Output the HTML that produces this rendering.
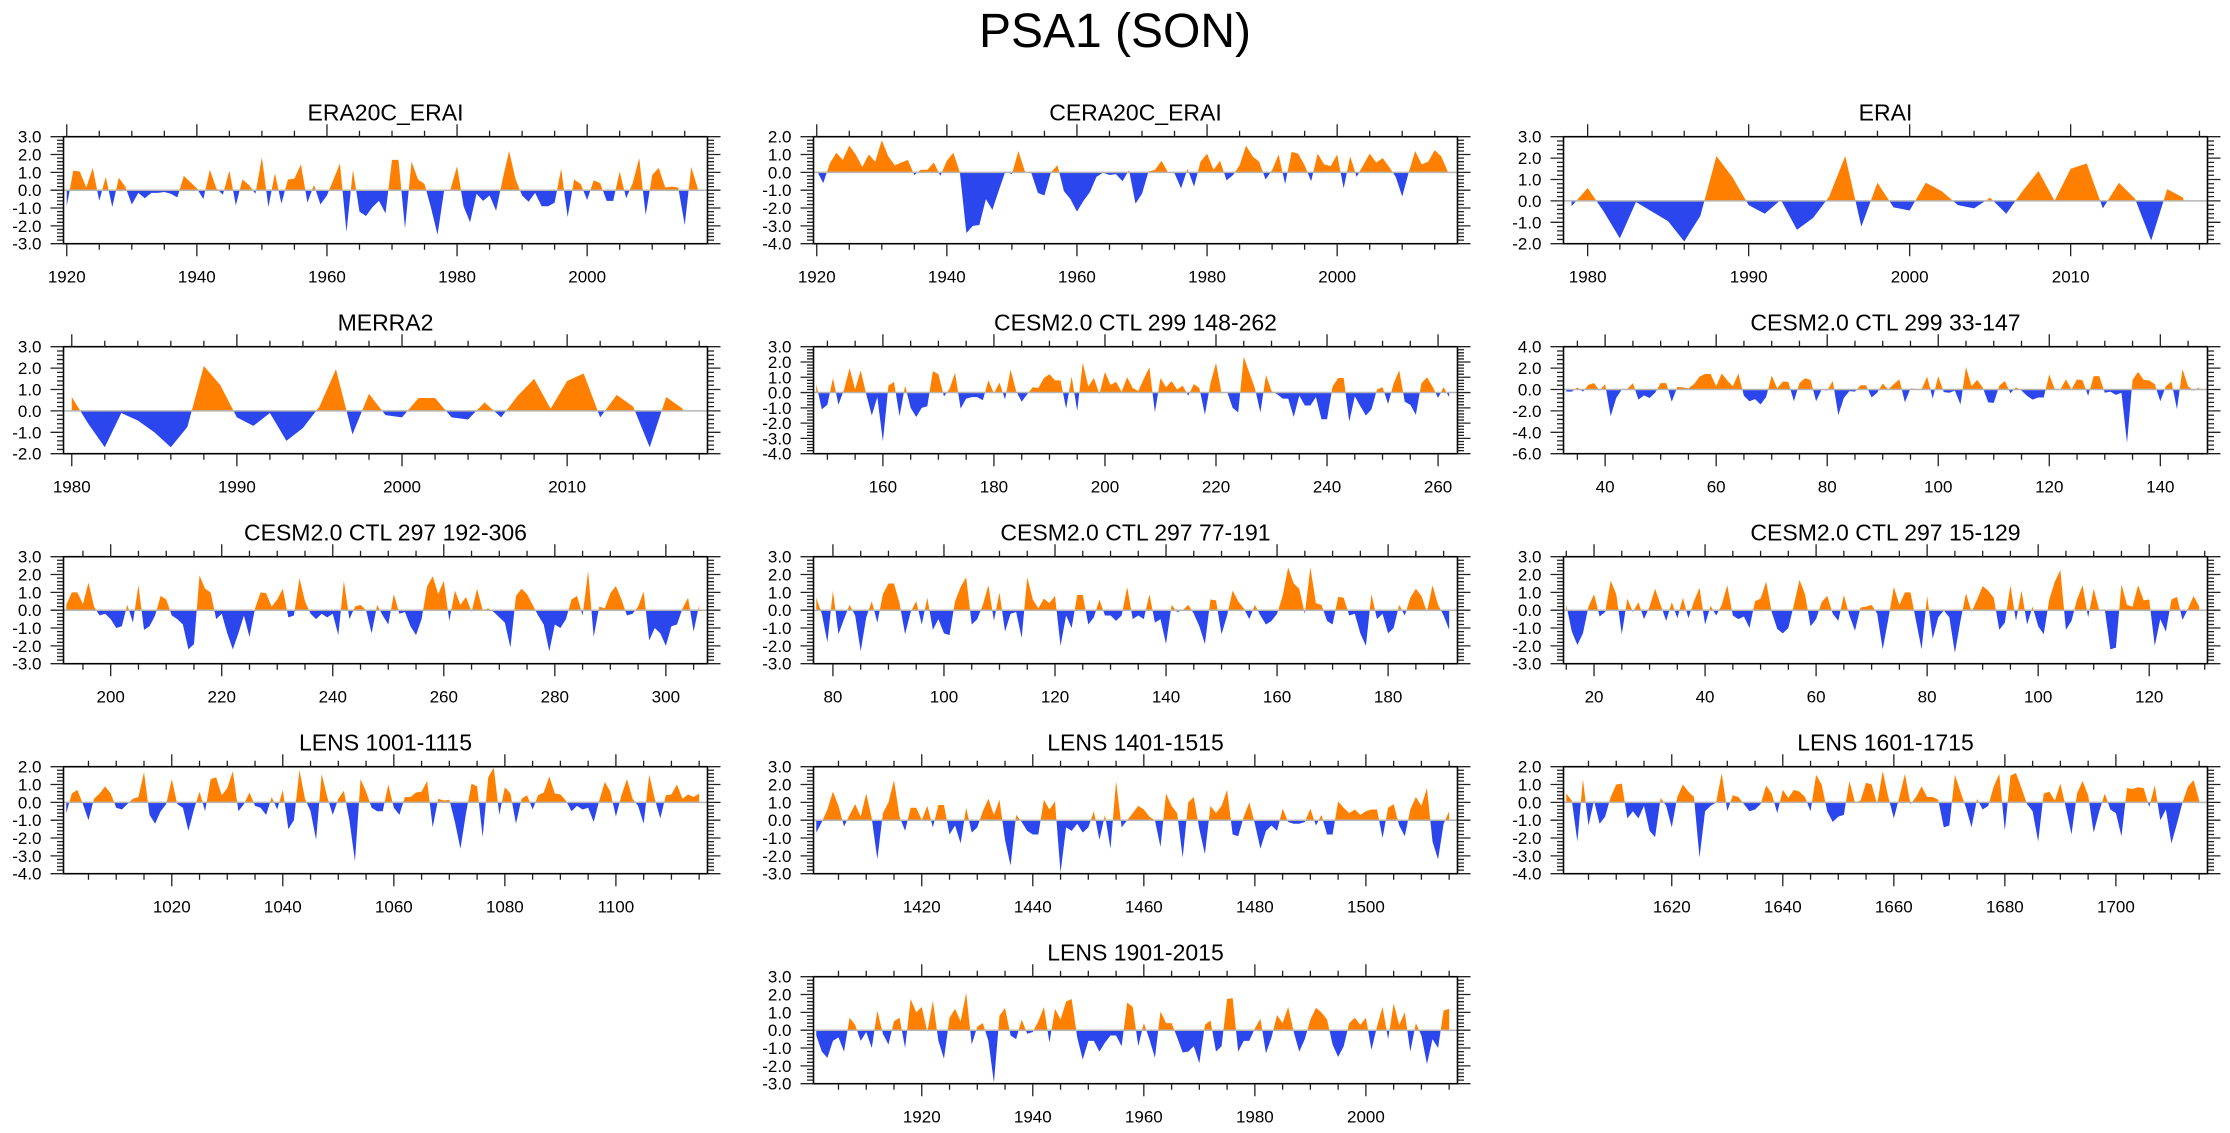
<!DOCTYPE html>
<html><head><meta charset="utf-8"><title>PSA1 (SON)</title>
<style>
html,body{margin:0;padding:0;background:#fff;}
svg{display:block;font-family:"Liberation Sans",Arial,sans-serif;}
</style></head>
<body>
<svg id="fig" width="2230" height="1133" viewBox="0 0 2230 1133" xmlns="http://www.w3.org/2000/svg">
<rect width="2230" height="1133" fill="#fff"/>
<text x="1115" y="47" font-size="48" text-anchor="middle" fill="#000">PSA1 (SON)</text>
</svg>
<script>
// ---- data (one array per panel) ----
const titles = ["ERA20C_ERAI","CERA20C_ERAI","ERAI","MERRA2","CESM2.0 CTL 299 148-262","CESM2.0 CTL 299 33-147","CESM2.0 CTL 297 192-306","CESM2.0 CTL 297 77-191","CESM2.0 CTL 297 15-129","LENS 1001-1115","LENS 1401-1515","LENS 1601-1715","LENS 1901-2015"];
const startYears = [1920,1920,1979,1980,148,33,192,77,15,1001,1401,1601,1901];
const endYears = [2017,2017,2017,2017,262,147,306,191,129,1115,1515,1715,2015];
const yMins = [-3,-4,-2,-2,-4,-6,-3,-3,-3,-4,-3,-4,-3];
const yMaxs = [3,2,3,3,3,4,3,3,3,2,3,2,3];
const yLabelSteps = [1,1,1,1,1,2,1,1,1,1,1,1,1];
const xMajorSteps = [20,20,10,10,20,20,20,20,20,20,20,20,20];
const xMinorSteps = [5,5,2,2,5,5,5,5,5,5,5,5,5];

const era20c = [-0.9,1.1,1.05,0.15,1.25,-0.6,0.75,-0.95,0.7,0.2,-0.8,-0.15,-0.45,-0.15,-0.15,-0.1,-0.2,-0.4,0.8,0.45,0.1,-0.5,1.15,0.1,-0.25,1.1,-0.85,0.6,0.3,-0.2,1.85,-0.95,0.95,-0.75,0.6,0.65,1.45,-0.7,0.3,-0.8,-0.3,0.6,1.5,-2.35,1.15,-1.2,-1.45,-0.95,-0.6,-1.3,1.7,1.7,-2.15,1.6,0.6,0.35,-1.0,-2.5,-0.05,0.05,1.35,-0.9,-1.8,-0.2,-0.6,-0.3,-1.15,0.6,2.2,0.6,-0.3,-0.65,-0.15,-0.9,-0.9,-0.7,1.2,-1.5,0.6,0.35,-0.55,0.55,0.4,-0.6,-0.6,1.05,-0.45,0.4,1.8,-1.4,0.85,1.25,0.15,0.2,0.15,-1.95,1.3,0.1];
const cera20c = [0.1,-0.6,0.5,1.1,0.7,1.5,1.0,0.3,1.0,0.6,1.8,0.9,0.4,0.55,0.7,-0.15,0.15,0.15,0.55,-0.2,0.65,1.1,0.0,-3.4,-3.0,-2.95,-1.5,-2.1,-1.0,0.05,-0.1,1.2,0.05,-0.05,-1.15,-1.3,0.0,0.4,-1.05,-1.5,-2.2,-1.6,-1.1,-0.25,-0.02,-0.15,-0.1,-0.5,0.13,-1.75,-1.2,0.05,0.15,0.65,0.0,-0.05,-0.9,0.2,-0.8,0.6,1.05,0.15,0.65,-0.45,-0.15,0.4,1.5,0.9,0.6,-0.4,0.13,1.0,-0.65,1.15,1.05,0.4,-0.5,1.05,0.45,0.35,1.0,-0.9,0.9,-0.25,0.4,1.05,0.55,0.8,0.3,-0.25,-1.35,0.0,1.2,0.45,0.6,1.25,0.9,0.05];
const erai = [-0.25,0.6,-0.5,-1.75,-0.05,-0.5,-0.95,-1.9,-0.7,2.1,1.1,-0.2,-0.6,0.05,-1.35,-0.8,0.2,2.1,-1.2,0.85,-0.3,-0.45,0.85,0.45,-0.2,-0.35,0.15,-0.6,0.45,1.4,0.0,1.5,1.75,-0.35,0.85,0.1,-1.85,0.55,0.15];
const merra2 = [0.65,-0.6,-1.7,-0.1,-0.45,-1.0,-1.7,-0.75,2.1,1.2,-0.3,-0.7,-0.1,-1.4,-0.8,0.2,1.95,-1.1,0.8,-0.2,-0.3,0.6,0.6,-0.3,-0.4,0.4,-0.3,0.7,1.5,0.1,1.4,1.75,-0.3,0.75,0.2,-1.7,0.65,0.1];
const ctl299a = [0.55,-1.1,-0.8,0.95,-0.8,0.2,1.6,0.2,1.45,-0.1,-1.5,-0.3,-3.2,0.45,0.7,-1.55,0.45,-1.0,-1.6,-1.0,-0.9,1.4,1.2,-0.25,0.25,1.3,-1.05,-0.4,-0.3,-0.3,-0.5,0.8,-0.05,0.65,-0.45,1.5,0.1,-0.6,-0.1,0.35,0.3,0.95,1.2,0.8,0.8,-1.05,1.05,-1.2,1.95,0.4,0.95,-0.1,1.35,0.5,0.7,0.05,1.0,0.3,0.1,0.9,1.65,-1.3,0.95,0.35,0.75,0.2,0.45,-0.2,0.55,0.3,-1.45,0.6,1.95,-0.05,0.05,-1.0,-1.3,2.35,1.3,0.3,-1.3,1.15,0.1,-0.1,-0.4,-0.4,-1.6,-0.2,-0.85,-0.85,-0.3,-1.75,-1.75,0.4,0.95,0.95,-1.9,-0.25,-0.9,-1.5,-1.1,0.2,0.35,-0.75,0.6,1.45,-0.6,-0.8,-1.45,0.6,1.0,0.4,-0.35,0.35,-0.3];
const ctl299b = [-0.2,-0.2,0.2,-0.2,0.45,0.6,-0.1,0.5,-2.5,-0.8,0.0,0.05,0.6,-0.95,-0.55,-0.8,-0.3,0.6,0.6,-1.15,0.25,0.2,0.1,0.5,1.2,1.45,1.45,0.3,1.5,0.85,0.3,1.5,-0.6,-1.1,-0.9,-1.4,-0.7,1.3,0.1,0.75,0.7,-1.1,0.6,1.05,0.9,-1.1,0.0,-0.1,0.8,-2.4,-0.8,-0.15,-0.2,0.4,0.4,-0.75,-0.3,0.55,0.0,0.5,0.95,-1.2,0.1,0.05,0.0,1.2,-0.85,1.25,-0.25,-0.3,-0.1,-1.4,2.1,0.3,0.9,0.2,-1.2,-1.25,0.35,0.8,-0.35,0.2,-0.1,-0.6,-0.95,-0.75,-0.75,1.4,0.0,0.0,0.95,0.0,0.95,0.85,-0.6,1.25,1.25,-0.3,-0.2,-0.5,-0.3,-5.0,0.9,1.65,0.9,0.85,0.5,-1.1,0.3,0.75,-1.85,1.9,0.3,-0.1,0.2];
const ctl297a = [0.3,1.0,1.0,0.35,1.55,0.2,-0.3,-0.2,-0.5,-1.0,-0.9,0.3,-0.7,1.4,-1.1,-0.9,-0.3,0.8,0.6,-0.3,-0.5,-0.8,-2.2,-1.9,1.95,1.2,1.0,-0.5,-0.2,-1.3,-2.2,-1.3,-0.3,-1.5,0.1,1.0,0.95,0.2,0.6,1.2,-0.4,-0.3,1.8,0.5,-0.2,-0.5,-0.2,-0.4,-0.2,-1.4,1.65,-0.5,0.2,0.3,0.0,-1.3,0.3,-0.3,-0.8,0.9,-0.2,-0.1,-0.9,-1.4,-0.5,1.35,1.9,0.9,1.65,-0.6,1.1,0.3,0.75,-0.1,1.2,0.0,0.1,-0.1,-0.4,-0.7,-2.1,0.8,1.2,0.9,0.3,-0.3,-0.8,-2.3,-0.8,-1.0,-0.5,0.6,0.8,-0.3,2.2,-1.5,0.2,0.1,0.95,1.35,0.6,-0.3,-0.2,0.2,1.05,-1.7,-1.0,-1.3,-2.0,-0.9,-0.8,0.1,0.7,-1.2,0.3];
const ctl297b = [0.7,-0.2,-1.8,1.1,-1.35,-0.5,0.3,-0.3,-2.3,-0.4,0.5,-0.7,0.9,1.5,1.5,0.4,-1.35,-0.1,0.5,-0.8,0.7,-1.1,-0.5,-1.3,-1.4,0.5,1.3,1.85,-0.8,-0.5,0.3,1.4,-0.6,1.0,-1.2,-0.2,-0.1,-1.55,1.85,0.6,0.1,0.65,0.4,0.8,-2.0,-0.3,-1.0,0.85,0.85,-0.8,-0.4,0.6,-0.3,-0.3,-0.6,-0.3,1.3,-0.5,-0.3,-0.5,0.9,-0.7,-0.5,-1.9,0.3,-0.1,0.0,0.3,-0.2,-0.9,-1.9,0.6,0.55,-1.35,-0.3,1.1,0.5,0.1,-0.5,0.3,-0.3,-0.8,-0.6,-0.2,0.8,2.4,1.5,1.2,-0.2,2.4,0.4,0.3,-0.6,-0.8,0.75,0.7,-0.3,-0.2,-1.3,-2.0,0.9,-0.5,-0.2,-1.3,-1.0,0.3,-0.3,0.7,1.2,0.8,-0.1,1.4,0.3,-0.3,-1.1];
const ctl297c = [0.3,-1.2,-1.95,-1.3,0.2,0.9,-0.35,-0.1,1.65,0.9,-1.35,0.65,-0.1,0.45,-0.5,0.2,1.2,0.3,-0.6,0.45,-0.45,0.7,-0.45,0.5,1.25,-0.8,0.25,-0.3,0.3,1.4,-0.3,-0.5,-0.35,-1.0,0.5,0.65,1.6,-0.1,-1.05,-1.3,-1.0,0.3,1.7,0.9,-0.9,-0.5,0.45,0.8,-0.2,-0.6,0.85,-0.3,-1.15,0.15,0.2,0.3,-0.2,-2.2,-0.5,1.3,0.3,1.0,1.0,-0.6,-2.2,0.8,-1.6,-0.4,0.0,-0.4,-2.4,-0.6,0.95,-0.1,0.6,1.35,1.1,0.7,-1.1,-0.7,1.4,-0.6,1.1,-0.8,0.2,-0.9,-1.35,0.6,1.6,2.25,-1.1,-0.6,0.6,1.4,-0.4,1.2,0.0,0.05,-2.2,-2.1,1.45,0.3,0.2,1.4,0.55,0.6,-2.0,-0.5,-1.2,0.6,0.75,-0.55,0.1,0.8,0.2];
const lens1001 = [-0.6,0.5,0.7,-0.1,-1.0,0.2,0.5,0.9,0.5,-0.3,-0.4,-0.1,0.2,0.3,1.7,-0.7,-1.2,-0.5,-0.1,1.3,-0.1,-0.3,-1.6,-0.4,0.6,-0.5,1.3,1.4,0.4,0.8,1.75,-0.5,-0.1,0.55,-0.2,-0.3,-0.7,0.3,-0.4,0.7,-1.5,-1.0,1.8,0.2,-0.5,-2.1,1.6,0.3,-0.7,0.2,0.65,-1.0,-3.3,1.3,0.6,-0.3,-0.5,-0.5,1.0,-0.3,-0.7,0.3,0.3,0.55,0.6,1.2,-1.4,0.2,0.1,0.15,-1.1,-2.6,-0.6,1.05,0.9,-1.95,1.4,1.95,-0.7,0.85,0.5,-1.2,0.2,0.4,-0.4,0.4,0.55,1.45,0.5,0.45,0.1,-0.5,-0.2,-0.4,-0.3,-1.1,0.1,1.15,0.6,-0.8,0.4,1.3,0.2,-0.2,-1.2,1.55,0.2,-0.9,0.4,0.45,1.0,0.2,0.45,0.3,0.5];
const lens1401 = [-0.7,-0.1,0.6,1.6,0.8,-0.35,0.3,0.9,0.2,1.5,0.1,-2.2,0.4,1.0,2.25,0.2,-0.6,0.7,0.7,0.0,0.8,-0.4,0.85,0.85,-0.8,-0.3,-1.3,0.7,-0.7,-0.4,0.5,1.2,0.3,1.15,-1.1,-2.55,0.3,-0.1,-0.6,-0.8,-0.8,1.15,0.6,1.05,-2.95,-0.4,-0.6,-0.2,-0.7,-0.4,0.5,-1.1,0.3,-1.6,2.2,-0.4,0.0,0.4,0.8,0.6,0.2,0.0,-1.5,1.5,0.8,0.4,-2.1,1.0,1.3,-0.5,-1.9,0.8,0.4,0.8,1.7,-0.8,-0.9,0.2,1.0,-0.2,-1.6,-0.6,-0.3,-0.6,0.65,-0.1,-0.2,-0.2,-0.1,0.65,-0.3,0.3,-0.8,-0.8,1.05,0.7,0.4,0.6,0.3,0.5,0.6,0.6,-1.0,0.7,0.9,-0.3,-0.9,0.6,1.3,0.8,1.8,-1.2,-2.2,-0.2,0.5];
const lens1601 = [0.5,0.1,-2.2,1.3,-1.3,0.1,-1.2,-0.8,0.3,1.0,1.05,-0.9,-0.5,-0.9,-0.2,-1.6,-1.95,0.25,-0.2,-1.4,0.3,1.0,0.6,0.3,-3.1,-0.5,-0.2,0.0,1.65,-0.5,0.4,0.3,-0.1,-0.5,-0.4,-0.1,0.95,0.5,-0.6,0.7,0.25,0.7,0.6,0.3,-0.5,1.55,1.0,-0.5,-1.1,-0.8,-0.7,1.2,0.0,0.1,1.1,1.0,-0.1,1.75,0.3,-0.9,0.3,1.6,-0.1,0.3,0.9,0.3,0.3,0.15,-1.4,-1.3,1.55,0.6,-0.3,-1.4,0.2,-0.4,-0.2,0.9,1.6,-1.6,1.5,1.65,0.8,-0.1,-0.5,-2.2,0.5,0.6,0.1,1.05,-0.3,-1.8,0.5,1.2,0.4,-1.7,-0.5,0.5,-0.4,-0.6,-1.9,0.8,0.75,0.85,0.8,-0.25,0.95,-1.0,-0.4,-2.3,-1.2,0.0,0.9,1.25,0.1];
const lens1901 = [-0.3,-1.2,-1.55,-0.6,-0.4,-1.2,0.7,0.3,-0.6,-0.1,-1.0,1.1,-0.2,-0.8,0.5,0.7,-1.0,1.75,1.0,1.3,-0.1,1.65,-0.6,-1.6,0.7,1.2,0.5,2.1,-0.8,0.2,0.4,-0.6,-2.95,0.8,1.25,-0.3,-0.5,0.6,-0.2,-0.1,0.5,1.3,-0.7,1.2,0.6,1.6,1.75,-0.4,-1.65,-0.6,-0.6,-1.2,-0.7,-0.3,-0.3,-0.9,1.55,1.3,-0.9,0.4,-0.5,-1.55,1.05,0.4,0.4,-0.4,-1.25,-1.2,-0.9,-1.85,0.3,0.55,-1.2,-0.9,1.75,1.8,-1.2,-0.6,-0.6,0.1,0.65,-1.3,-0.4,0.85,0.4,1.3,-0.1,-1.2,-0.5,0.6,1.25,1.0,0.6,-0.8,-1.5,-0.9,0.4,0.7,0.3,0.7,-1.1,0.2,1.3,-0.5,1.5,0.3,1.0,-1.2,0.4,-0.3,-1.9,-0.5,-1.0,1.1,1.2];
const seriesList = [era20c,cera20c,erai,merra2,ctl299a,ctl299b,ctl297a,ctl297b,ctl297c,lens1001,lens1401,lens1601,lens1901];

// ---- layout ----
const NS = "http://www.w3.org/2000/svg";
const svg = document.getElementById("fig");
const colX = [63.5, 813.5, 1563.5];
const W = 644, H = 107, ROW0 = 136.7, ROWSTEP = 210;
const ORANGE = "#ff8000", BLUE = "#2a46ec";

function mk(tag, attrs, parent){
  const e = document.createElementNS(NS, tag);
  for (const k in attrs) e.setAttribute(k, attrs[k]);
  parent.appendChild(e);
  return e;
}
function r(v){return Math.round(v*100)/100;}

for (let p = 0; p < titles.length; p++){
  const col = p < 12 ? p % 3 : 1;
  const row = Math.floor(p / 3);
  const L = colX[col], T = ROW0 + row*ROWSTEP, B = T + H, R = L + W;
  const x0 = startYears[p] - 0.5, x1 = endYears[p] + 1.5;
  const y0 = yMins[p], y1 = yMaxs[p];
  const xs = v => L + (v - x0) / (x1 - x0) * W;
  const ys = v => B - (v - y0) / (y1 - y0) * H;

  const g = mk("g", {}, svg);
  
  

  const t = mk("text", {x: L + W/2, y: T - 16, "font-size": 23, "text-anchor": "middle", fill: "#000"}, g);
  
  
  t.textContent = titles[p];

  // clip paths
  const idA = "ca" + p, idB = "cb" + p;
  const cpA = mk("clipPath", {id: idA}, g);
  mk("rect", {x: L, y: T, width: W, height: r(ys(0) - T)}, cpA);
  const cpB = mk("clipPath", {id: idB}, g);
  mk("rect", {x: L, y: r(ys(0)), width: W, height: r(B - ys(0))}, cpB);

  const data = seriesList[p];
  let d = "M" + r(xs(startYears[p])) + "," + r(ys(0));
  for (let i = 0; i < data.length; i++) d += " L" + r(xs(startYears[p] + i)) + "," + r(ys(data[i]));
  d += " L" + r(xs(startYears[p] + data.length - 1)) + "," + r(ys(0)) + "Z";
  const pos = mk("path", {d: d, fill: ORANGE, "clip-path": "url(#" + idA + ")"}, g);
  
  
  const neg = mk("path", {d: d, fill: BLUE, "clip-path": "url(#" + idB + ")"}, g);
  
  

  const zl = mk("line", {x1: L, x2: R, y1: r(ys(0)), y2: r(ys(0)), stroke: "#b4b4b4", "stroke-width": 1.5}, g);
  
  

  const box = mk("rect", {x: L, y: T, width: W, height: H, fill: "none", stroke: "#000", "stroke-width": 1.6}, g);
  
  

  // x ticks
  let tk = "";
  const mn = xMinorSteps[p], mj = xMajorSteps[p];
  for (let v = Math.ceil(x0 / mn) * mn; v <= x1; v += mn){
    const X = r(xs(v));
    const len = (v % mj === 0) ? 12.5 : 6;
    tk += "M" + X + "," + T + "v" + (-len) + "M" + X + "," + B + "v" + len;
    if (v % mj === 0){
      const lb = mk("text", {x: X, y: B + 39, "font-size": 17, "text-anchor": "middle", fill: "#000"}, g);
      
      
      lb.textContent = String(v);
    }
  }
  // y ticks
  const ls = yLabelSteps[p], ms = ls / 5;
  const nMinor = Math.round((y1 - y0) / ms);
  for (let k = 0; k <= nMinor; k++){
    const v = y0 + k * ms;
    const Y = r(ys(v));
    const major = (k % 5 === 0);
    const len = major ? 13 : 6.5;
    tk += "M" + L + "," + Y + "h" + (-len) + "M" + R + "," + Y + "h" + len;
    if (major){
      const lb = mk("text", {x: L - 22, y: Y + 6, "font-size": 17, "text-anchor": "end", fill: "#000"}, g);
      
      
      lb.textContent = (Math.round(v * 10) / 10).toFixed(1);
    }
  }
  const ticks = mk("path", {d: tk, stroke: "#222", "stroke-width": 1.3, fill: "none"}, g);
  
  
}
</script>
</body></html>
